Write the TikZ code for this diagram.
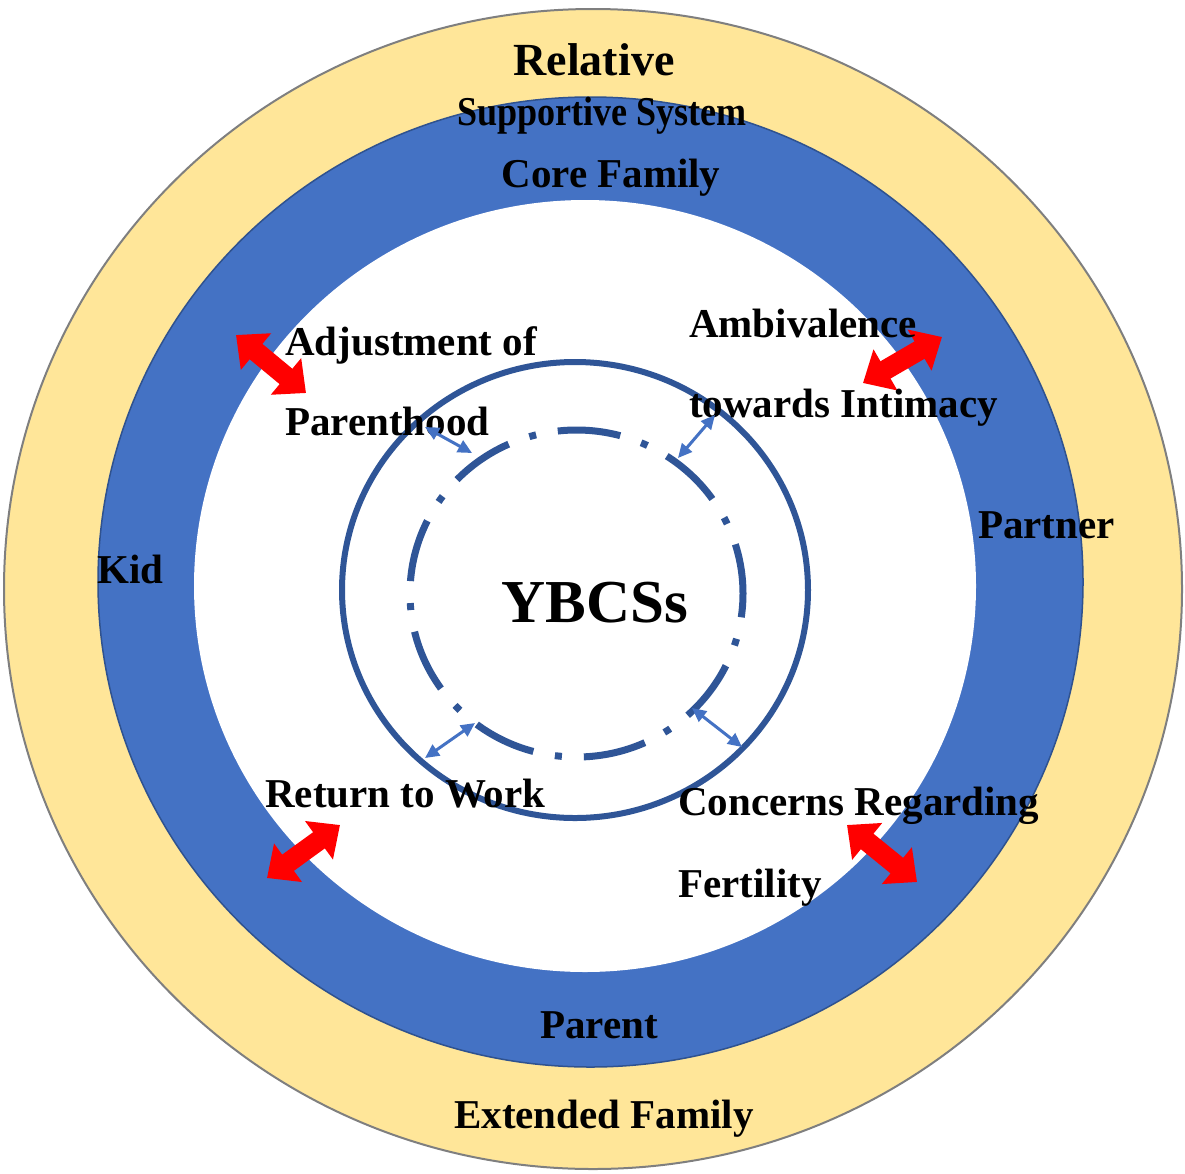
\documentclass[tikz,border=0pt]{standalone}
\usepackage{fontspec}
\setmainfont{Liberation Serif}
\usetikzlibrary{arrows.meta}
\definecolor{ringyellow}{HTML}{FFE699}
\definecolor{ringblue}{HTML}{4472C4}
\definecolor{darkblue}{HTML}{2F5597}
\definecolor{ringedge}{HTML}{2F528F}
\definecolor{edgegray}{HTML}{7F7F7F}
\begin{document}
\begin{tikzpicture}[x=1pt,y=-1pt,
  lbl/.style={font=\bfseries\fontsize{41}{41}\selectfont, inner sep=0pt},
  redarrow/.style={draw=red, line width=20pt,
     {Triangle[length=26pt,width=46pt]}-{Triangle[length=26pt,width=46pt]}},
  bluearrow/.style={draw=ringblue, line width=3pt,
     {Triangle[length=14pt,width=13pt]}-{Triangle[length=14pt,width=13pt]}},
]
\useasboundingbox (0,0) rectangle (1185,1173);
% rings
\fill[ringyellow, draw=edgegray, line width=2pt] (593,589) ellipse [x radius=589pt, y radius=580pt];
\fill[ringblue, draw=ringedge, line width=1.5pt] (590.5,582) ellipse [x radius=492.5pt, y radius=485pt];
\fill[white] (585,586) ellipse [x radius=391pt, y radius=386pt];
% inner circles
\draw[darkblue, line width=6pt] (575,590) ellipse [x radius=233pt, y radius=228pt];
\draw[darkblue, line width=7pt, dash pattern=on 63pt off 22pt on 7pt off 22pt, dash phase=13pt]
  (576.5,593.5) ellipse [x radius=166.5pt, y radius=163.5pt];
% red arrows
\coordinate (ra1) at (236,335); \coordinate (rb1) at (306,393);
\coordinate (ra2) at (942,337); \coordinate (rb2) at (863,383);
\coordinate (ra3) at (340,825); \coordinate (rb3) at (267,878);
\coordinate (ra4) at (847,825); \coordinate (rb4) at (917,882);
\draw[redarrow] (ra1) -- (rb1);
\draw[redarrow] (ra2) -- (rb2);
\draw[redarrow] (ra3) -- (rb3);
\draw[redarrow] (ra4) -- (rb4);
% labels
\node[lbl, anchor=base, font=\bfseries\fontsize{46}{46}\selectfont] (relative) at (594,75) {Relative};
\node[lbl, anchor=base, xscale=0.88] (supportive) at (602,125) {Supportive System};
\node[lbl, anchor=base] (core) at (611,187) {Core Family};
\node[lbl, anchor=base west] (kid) at (97,583) {Kid};
\node[lbl, anchor=base west] (partner) at (978,538) {Partner};
\node[lbl, anchor=base] (parent) at (599,1038) {Parent};
\node[lbl, anchor=base] (extended) at (604,1128) {Extended Family};
\node[lbl, anchor=base, font=\bfseries\fontsize{61}{61}\selectfont] (ybcs) at (595,622) {YBCSs};
\node[lbl, anchor=base west] (adj1) at (285,355) {Adjustment of};
\node[lbl, anchor=base west] (adj2) at (285,435) {Parenthood};
\node[lbl, anchor=base west] (amb1) at (689,337) {Ambivalence};
\node[lbl, anchor=base west] (amb2) at (689,417) {towards Intimacy};
\node[lbl, anchor=base west] (ret) at (265,807) {Return to Work};
\node[lbl, anchor=base west] (con1) at (678,815) {Concerns Regarding};
\node[lbl, anchor=base west] (con2) at (678,897) {Fertility};
% small blue arrows
\coordinate (ba1) at (425,427); \coordinate (bb1) at (472,453);
\coordinate (ba2) at (715,415); \coordinate (bb2) at (678,458);
\coordinate (ba3) at (425,758); \coordinate (bb3) at (475,723);
\coordinate (ba4) at (692,708); \coordinate (bb4) at (742,747);
\draw[bluearrow] (ba1) -- (bb1);
\draw[bluearrow] (ba2) -- (bb2);
\draw[bluearrow] (ba3) -- (bb3);
\draw[bluearrow] (ba4) -- (bb4);
\end{tikzpicture}
\end{document}
